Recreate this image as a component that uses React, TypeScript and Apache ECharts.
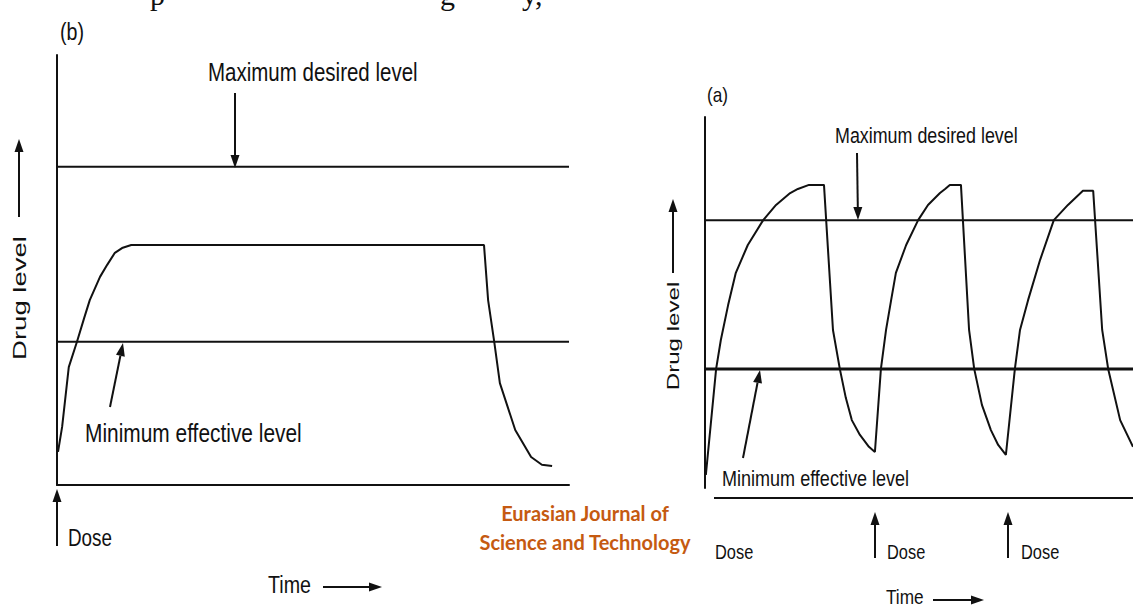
import React, { useEffect, useRef } from "react";
import * as echarts from "echarts";

// Panel (b): single dose, sustained release
const timeB = [0.2, 1.0, 2.3, 3.9, 5.3, 6.4, 8.4, 9.8, 11.3, 12.7, 14.5, 83.4, 84.2, 85.4, 86.5, 89.5, 92.6, 94.7, 96.7];
const levelB = [7.7, 13.5, 27.4, 33.3, 38.8, 43.0, 48.4, 51.2, 54.0, 55.1, 55.8, 55.8, 43.0, 33.3, 23.7, 12.8, 6.5, 4.7, 4.4];
const maxDesiredB = 74;
const minEffectiveB = 33.3;

// Panel (a): repeated doses
const timeA = [0.2, 2.6, 3.7, 5.4, 7.2, 10.0, 13.6, 16.6, 19.9, 21.7, 24.3, 27.8, 29.9, 31.5, 32.9, 34.3, 36.2, 38.3, 39.7,
  41.1, 42.3, 43.5, 44.6, 47.0, 49.8, 52.1, 54.9, 56.1, 57.2, 59.8, 61.7, 62.9, 64.7, 66.8, 68.5, 70.3,
  72.4, 73.6, 75.5, 78.3, 81.5, 84.8, 88.3, 90.7, 92.8, 94.2, 97.0, 100];
const levelA = [3.5, 32.1, 39.9, 49.3, 58.0, 65.5, 72.2, 76.3, 79.5, 80.6, 81.7, 81.7, 42.6, 32.1, 24.3, 18.3, 14.3, 11.1, 9.7,
  32.1, 42.6, 50.7, 58.0, 65.5, 72.2, 76.3, 79.5, 80.6, 81.7, 81.7, 42.6, 32.1, 22.4, 15.6, 11.6, 8.9,
  32.1, 42.6, 50.7, 61.5, 72.2, 76.3, 80.1, 80.1, 42.6, 32.1, 18.3, 11.1];
const maxDesiredA = 72.2;
const minEffectiveA = 32.1;

const INK = "#111";
const SANS = "'Liberation Sans', Arial, sans-serif";

function arrow(x1: number, y1: number, x2: number, y2: number, head = 13, half = 4.5, lw = 2) {
  const dx = x2 - x1, dy = y2 - y1;
  const len = Math.hypot(dx, dy);
  const ux = dx / len, uy = dy / len;
  const bx = x2 - ux * head, by = y2 - uy * head;
  const px = -uy, py = ux;
  return {
    type: "group",
    children: [
      { type: "line", shape: { x1, y1, x2: bx, y2: by }, style: { stroke: INK, lineWidth: lw } },
      {
        type: "polygon",
        shape: { points: [[x2, y2], [bx + px * half, by + py * half], [bx - px * half, by - py * half]] },
        style: { fill: INK },
      },
    ],
  };
}

// condensed-looking label (narrow sans emulated with a horizontal squeeze)
function txt(text: string, x: number, y: number, size: number, squeeze = 0.82) {
  return {
    type: "text",
    x,
    y,
    scaleX: squeeze,
    style: {
      text,
      fill: INK,
      font: `${size}px ${SANS}`,
      verticalAlign: "middle",
      align: "left",
    },
  };
}

// vertical axis title, glyphs stretched along the reading direction as in the scan
function vlabel(text: string, x: number, y: number, size: number, stretch: number) {
  return {
    type: "text",
    x,
    y,
    rotation: Math.PI / 2,
    scaleX: stretch,
    style: { text, fill: INK, font: `${size}px ${SANS}`, align: "center", verticalAlign: "middle" },
  };
}

export default function App() {
  const ref = useRef<HTMLDivElement>(null);
  useEffect(() => {
    if (!ref.current) return;
    const chart = echarts.init(ref.current, null, { renderer: "svg" });
    const pair = (t: number[], v: number[]) => t.map((x, i) => [x, v[i]]);
    const hidden = {
      axisTick: { show: false },
      axisLabel: { show: false },
      splitLine: { show: false },
      min: 0,
      max: 100,
      type: "value" as const,
    };
    const lineStyle = { color: INK, width: 2 };
    const common = { type: "line" as const, showSymbol: false, symbol: "none", lineStyle, silent: true };
    const serif = "30px 'Liberation Serif', serif";

    chart.setOption({
      animation: false,
      backgroundColor: "#fff",
      grid: [
        { left: 57, top: 55, width: 512, height: 430 },
        { left: 705, top: 117, width: 428, height: 371 },
      ],
      xAxis: [
        { ...hidden, gridIndex: 0, axisLine: { show: true, onZero: false, lineStyle: { color: INK, width: 2 } } },
        { ...hidden, gridIndex: 1, axisLine: { show: false } },
      ],
      yAxis: [
        { ...hidden, gridIndex: 0, axisLine: { show: true, lineStyle: { color: INK, width: 2 } } },
        { ...hidden, gridIndex: 1, axisLine: { show: true, lineStyle: { color: INK, width: 2 } } },
      ],
      series: [
        { ...common, name: "Drug level (b)", xAxisIndex: 0, yAxisIndex: 0, data: pair(timeB, levelB) },
        { ...common, name: "Maximum desired level (b)", xAxisIndex: 0, yAxisIndex: 0, data: [[0, maxDesiredB], [100, maxDesiredB]] },
        { ...common, name: "Minimum effective level (b)", xAxisIndex: 0, yAxisIndex: 0, data: [[0, minEffectiveB], [100, minEffectiveB]] },
        { ...common, name: "Drug level (a)", xAxisIndex: 1, yAxisIndex: 1, data: pair(timeA, levelA) },
        { ...common, name: "Maximum desired level (a)", xAxisIndex: 1, yAxisIndex: 1, data: [[0, maxDesiredA], [100, maxDesiredA]] },
        { ...common, name: "Minimum effective level (a)", xAxisIndex: 1, yAxisIndex: 1, lineStyle: { color: INK, width: 3 }, data: [[0, minEffectiveA], [100, minEffectiveA]] },
      ],
      graphic: [
        // cut-off line of body text at the very top of the scan
        { type: "text", x: 150, y: -6, style: { text: "p", fill: INK, font: serif, verticalAlign: "middle" } },
        { type: "text", x: 440, y: -6, style: { text: "g", fill: INK, font: serif, verticalAlign: "middle" } },
        { type: "text", x: 522, y: -6, style: { text: "y,", fill: INK, font: serif, verticalAlign: "middle" } },

        // ---- panel (b)
        txt("(b)", 60, 32, 24),
        txt("Maximum desired level", 208, 72, 25),
        arrow(235, 93, 235, 168),
        txt("Minimum effective level", 85, 433, 25.5),
        arrow(110, 407, 123, 343),
        arrow(57, 546, 57, 489),
        txt("Dose", 68, 538, 23),
        txt("Time", 268, 585, 24),
        arrow(323, 587, 382, 587),
        vlabel("Drug level", 20, 298, 19, 1.45),
        arrow(19, 217, 19, 139),

        // ---- panel (a)
        txt("(a)", 707, 95, 21),
        txt("Maximum desired level", 835, 135, 21.8),
        arrow(857, 153, 858, 220),
        txt("Minimum effective level", 722, 478, 22),
        arrow(743, 458, 760, 370),
        { type: "line", shape: { x1: 714, y1: 498, x2: 1133, y2: 498 }, style: { stroke: INK, lineWidth: 2 } },
        txt("Dose", 715, 552, 20),
        arrow(875, 558, 875, 512),
        txt("Dose", 887, 552, 20),
        arrow(1008, 558, 1008, 512),
        txt("Dose", 1021, 552, 20),
        txt("Time", 886, 597, 21),
        arrow(933, 600, 984, 600),
        vlabel("Drug level", 673, 336, 17, 1.42),
        arrow(673, 273, 673, 199),

        // ---- watermark
        {
          type: "text",
          x: 585,
          y: 513,
          style: { text: "Eurasian Journal of", fill: "#C55A11", font: "bold 20px Lato, 'Open Sans', sans-serif", align: "center", verticalAlign: "middle" },
        },
        {
          type: "text",
          x: 585,
          y: 542,
          style: { text: "Science and Technology", fill: "#C55A11", font: "bold 20px Lato, 'Open Sans', sans-serif", align: "center", verticalAlign: "middle" },
        },
      ],
    });
    return () => chart.dispose();
  }, []);
  return <div ref={ref} style={{ position: "fixed", left: 0, top: 0, width: 1133, height: 608, background: "#fff" }} />;
}
